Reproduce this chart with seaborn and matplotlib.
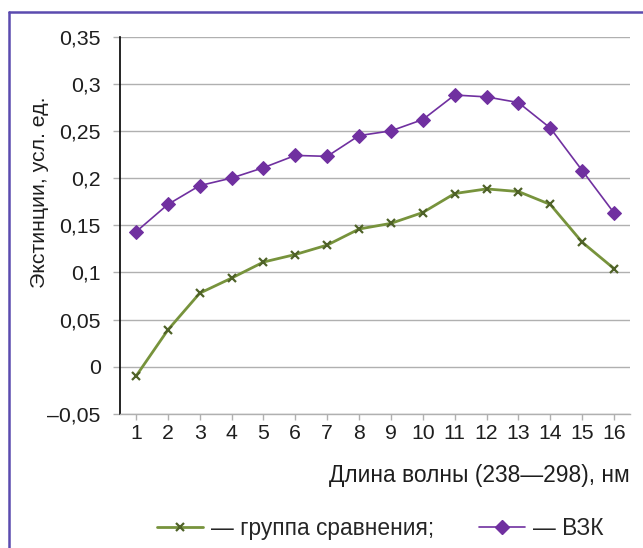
import matplotlib
matplotlib.use("Agg")
import matplotlib.pyplot as plt
from matplotlib.lines import Line2D
import seaborn as sns
import pandas as pd

wavelength_idx = list(range(1, 17))
comparison = [-0.010, 0.039, 0.078, 0.094, 0.111, 0.119, 0.129, 0.146, 0.152, 0.1635,
              0.1836, 0.1885, 0.1857, 0.172, 0.132, 0.104]
vzk = [0.143, 0.172, 0.192, 0.200, 0.211, 0.224, 0.223, 0.245, 0.250, 0.262,
       0.288, 0.286, 0.280, 0.253, 0.208, 0.163]
series_names = ["— группа сравнения;", "— ВЗК"]
y_ticks = [-0.05, 0, 0.05, 0.1, 0.15, 0.2, 0.25, 0.3, 0.35]
y_tick_labels = ["–0,05", "0", "0,05", "0,1", "0,15", "0,2", "0,25", "0,3", "0,35"]
x_label = "Длина волны (238—298), нм"
y_label = "Экстинции, усл. ед."

sns.set_theme(style="white")
plt.rcParams['font.family'] = ['Liberation Sans', 'DejaVu Sans']

df = pd.DataFrame({
    "x": wavelength_idx * 2,
    "y": comparison + vzk,
    "s": [series_names[0]] * 16 + [series_names[1]] * 16,
})

fig = plt.figure(figsize=(6.43, 5.48), dpi=100)
ax = fig.add_axes([120/643, 1-414/548, 510/643, 377.5/548])

green_line = "#77933C"
green_mark = "#4F6228"
purple = "#7030A0"
txt = "#1e1e1e"
fs = 15.3
fs_big = 16.4

sns.lineplot(data=df[df.s == series_names[0]], x="x", y="y", ax=ax,
             color=green_line, lw=2.0, marker="x", markersize=6,
             markeredgecolor=green_mark, markeredgewidth=1.6,
             label=series_names[0], legend=False)
sns.lineplot(data=df[df.s == series_names[1]], x="x", y="y", ax=ax,
             color=purple, lw=1.2, marker="D", markersize=7,
             markeredgecolor=purple, markerfacecolor=purple,
             label=series_names[1], legend=False)

ax.set_xlim(0.5, 16.5)
ax.set_ylim(-0.05, 0.35)
ax.set_yticks(y_ticks)
ax.set_yticklabels(y_tick_labels)
ax.set_xticks(wavelength_idx)
ax.set_xticklabels([str(i) for i in wavelength_idx])
ax.grid(axis="y", color="#B0B0B0", lw=1.0)
ax.set_axisbelow(True)
for side in ["top", "right"]:
    ax.spines[side].set_visible(False)
ax.spines["left"].set_color("black")
ax.spines["left"].set_linewidth(1.2)
ax.spines["bottom"].set_color("#B0B0B0")
ax.spines["bottom"].set_linewidth(1.0)
ax.tick_params(axis="y", labelsize=fs, colors="#B0B0B0", labelcolor=txt,
               length=5, width=1, direction="out", left=True, pad=9)
ax.tick_params(axis="x", labelsize=fs, colors="#B0B0B0", labelcolor=txt,
               length=4, width=1, direction="out", bottom=True, pad=3)

ax.set_xlabel(x_label, fontsize=fs_big, color=txt)
ax.xaxis.set_label_coords(1.0, -0.132)
ax.xaxis.label.set_horizontalalignment("right")
ax.set_ylabel(y_label, fontsize=fs, color=txt)
ax.yaxis.set_label_coords(-0.14, 0.588)

handles = [
    Line2D([], [], color=green_line, lw=2.0, marker="x", markersize=6,
           markeredgecolor=green_mark, markeredgewidth=1.6),
    Line2D([], [], color=purple, lw=1.2, marker="D", markersize=7,
           markeredgecolor=purple, markerfacecolor=purple),
]
ax.legend(handles, series_names, loc="center", bbox_to_anchor=(0.51, -0.302),
          ncol=2, frameon=False, fontsize=fs_big, handlelength=2.0,
          columnspacing=2.0, handletextpad=0.35)

border = "#5B4BAF"
fig.add_artist(Line2D([9/643, 1.0], [1-12/548, 1-12/548], color=border, lw=1.8,
                      transform=fig.transFigure))
fig.add_artist(Line2D([9/643, 9/643], [0, 1-12/548], color=border, lw=1.8,
                      transform=fig.transFigure))

fig.savefig("out.png", dpi=100)
